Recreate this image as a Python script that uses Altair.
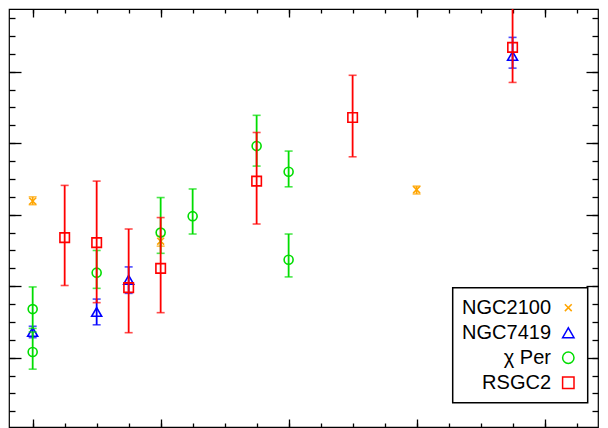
import altair as alt
import pandas as pd

# ---- series definitions ----
names = ["NGC2100", "NGC7419", "χ Per", "RSGC2"]
colors = ["#ffa500", "#0000ff", "#00dd00", "#ff0000"]
shapes = ["M-0.6,-0.6L0.6,0.6M-0.6,0.6L0.6,-0.6", "triangle-up", "circle", "square"]
marker_sizes = [130, 100, 81, 90]

ngc2100_x = [0, 4, 12]
ngc2100_y = [3.19, 2.63, 3.35]
ngc2100_lo = [3.14, 2.56, 3.29]
ngc2100_hi = [3.25, 2.70, 3.40]

ngc7419_x = [0, 2, 3, 15]
ngc7419_y = [1.36, 1.64, 2.09, 5.22]
ngc7419_lo = [1.28, 1.46, 1.90, 5.05]
ngc7419_hi = [1.44, 1.82, 2.27, 5.48]

chiper_x = [0, 0, 2, 4, 5, 7, 8, 8]
chiper_y = [1.68, 1.08, 2.19, 2.75, 2.98, 3.96, 3.60, 2.37]
chiper_lo = [1.41, 0.84, 1.97, 2.46, 2.73, 3.68, 3.39, 2.13]
chiper_hi = [1.99, 1.36, 2.50, 3.24, 3.36, 4.39, 3.89, 2.73]

rsgc2_x = [1, 2, 3, 4, 7, 10, 15]
rsgc2_y = [2.68, 2.61, 1.98, 2.25, 3.47, 4.36, 5.34]
rsgc2_lo = [2.01, 1.77, 1.35, 1.63, 2.87, 3.81, 4.85]
rsgc2_hi = [3.41, 3.47, 2.80, 2.96, 4.15, 4.95, 5.90]

# ---- tick positions ----
x_major = [0, 4, 8, 12, 16]
x_minor = [0, 1, 2, 3, 4, 5, 6, 7, 8, 9, 10, 11, 12, 13, 14, 15, 16, 17]
y_major = [1, 2, 3, 4, 5]
y_minor = [0.25, 0.5, 0.75, 1.0, 1.25, 1.5, 1.75, 2.0, 2.25, 2.5, 2.75, 3.0,
           3.25, 3.5, 3.75, 4.0, 4.25, 4.5, 4.75, 5.0, 5.25, 5.5, 5.75]

series_data = [
    (ngc2100_x, ngc2100_y, ngc2100_lo, ngc2100_hi),
    (ngc7419_x, ngc7419_y, ngc7419_lo, ngc7419_hi),
    (chiper_x, chiper_y, chiper_lo, chiper_hi),
    (rsgc2_x, rsgc2_y, rsgc2_lo, rsgc2_hi),
]

frames = []
for name, (xs, ys, los, his) in zip(names, series_data):
    frames.append(pd.DataFrame({"series": name, "x": xs, "y": ys, "lo": los, "hi": his}))
all_df = pd.concat(frames, ignore_index=True)

W, H = 589, 418
xsc = alt.Scale(domain=[-0.74, 17.67], nice=False, zero=False)
ysc = alt.Scale(domain=[0.031, 5.877], nice=False, zero=False)
csc = alt.Scale(domain=names, range=colors)
ssc = alt.Scale(domain=names, range=shapes)

legend = alt.Legend(
    title=None,
    orient="none", legendX=443.7, legendY=278.7, padding=10, rowPadding=5,
    labelFont="Liberation Sans", labelFontSize=20, labelColor="black",
    labelAlign="right", labelOffset={"expr": "-27.3"}, symbolOffset=95.6,
    symbolSize=130, symbolStrokeWidth=1.5,
    strokeColor="black", fillColor="white",
)


def tick_axis(orient, values, size):
    return alt.Axis(orient=orient, values=values, tickSize=size, offset=-size,
                    labels=False, domain=False, grid=False, title=None, ticks=True,
                    tickColor="black", tickWidth=1.3, minExtent=0, maxExtent=size)


layers = []
# axis-carrying invisible layers (inward ticks on all four sides)
for xo, yo, xv, yv, xs_, ys_ in [
    ("bottom", "left", x_major, y_major, 8, 12),
    ("bottom", "left", x_minor, y_minor, 4, 6),
    ("top", "right", x_major, y_major, 8, 12),
    ("top", "right", x_minor, y_minor, 4, 6),
]:
    layers.append(
        alt.Chart(all_df).mark_point(opacity=0).encode(
            x=alt.X("x:Q", scale=xsc, axis=tick_axis(xo, xv, xs_)),
            y=alt.Y("y:Q", scale=ysc, axis=tick_axis(yo, yv, ys_)),
        )
    )

for name, df, col, msize in zip(names, frames, colors, marker_sizes):
    base = alt.Chart(df)
    rule = base.mark_rule(strokeWidth=1.8, color=col, clip=True).encode(
        x=alt.X("x:Q", scale=xsc, axis=None),
        y=alt.Y("lo:Q", scale=ysc, axis=None),
        y2="hi:Q",
    )
    caps = base.transform_fold(["lo", "hi"], as_=["k", "v"]).mark_tick(
        orient="horizontal", size=8, thickness=1.6, color=col, clip=True
    ).encode(
        x=alt.X("x:Q", scale=xsc, axis=None),
        y=alt.Y("v:Q", scale=ysc, axis=None),
    )
    pts = base.mark_point(filled=False, strokeWidth=1.6, size=msize, opacity=1).encode(
        x=alt.X("x:Q", scale=xsc, axis=None),
        y=alt.Y("y:Q", scale=ysc, axis=None),
        color=alt.Color("series:N", scale=csc, legend=legend),
        shape=alt.Shape("series:N", scale=ssc, legend=legend),
    )
    layers += [rule, caps, pts]

chart = alt.layer(*layers).resolve_axis(x="independent", y="independent").properties(
    width=W, height=H, padding=0, background="white"
).configure_view(stroke="black", strokeWidth=1.2).configure_legend(strokeWidth=1.5)

chart.save("out.html", embed_options={"renderer": "svg", "actions": False})
